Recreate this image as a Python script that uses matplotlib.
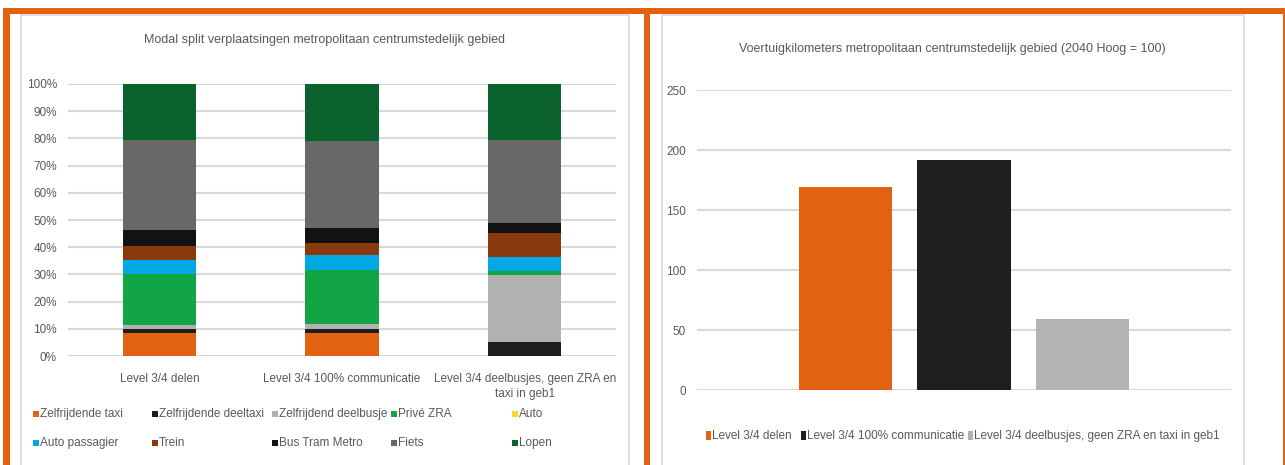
import matplotlib
matplotlib.use("Agg")
import matplotlib.pyplot as plt
from matplotlib.patches import Rectangle
import numpy as np

plt.rcParams['font.family'] = ['Liberation Sans', 'DejaVu Sans']

# ---- data: modal split (share of trips, %) ----
scenarios = ["Level 3/4 delen", "Level 3/4 100% communicatie",
             "Level 3/4 deelbusjes, geen ZRA en\ntaxi in geb1"]
modes = ["Zelfrijdende taxi", "Zelfrijdende deeltaxi", "Zelfrijdend deelbusje",
         "Privé ZRA", "Auto", "Auto passagier", "Trein", "Bus Tram Metro",
         "Fiets", "Lopen"]
zelfrijdende_taxi = [8.3, 8.3, 0.0]
zelfrijdende_deeltaxi = [1.6, 1.6, 5.3]
zelfrijdend_deelbusje = [1.5, 1.8, 24.4]
prive_zra = [18.9, 20.1, 1.5]
auto = [0.0, 0.0, 0.0]
auto_passagier = [4.9, 5.2, 5.3]
trein = [5.3, 4.4, 8.6]
bus_tram_metro = [5.9, 5.5, 3.7]
fiets = [32.9, 32.3, 30.6]
lopen = [20.7, 20.7, 20.7]

# ---- data: vehicle kilometres (2040 Hoog = 100) ----
vkm_labels = ["Level 3/4 delen", "Level 3/4 100% communicatie",
              "Level 3/4 deelbusjes, geen ZRA en taxi in geb1"]
vkm_values = [169, 192, 59]

mode_colors = ["#E36211", "#1E1E1E", "#B1B1B1", "#12A545", "#FFD52E",
               "#00A9E4", "#893A0C", "#121212", "#686868", "#0B622D"]
vkm_colors = ["#E36211", "#1E1E1E", "#B3B3B3"]

TXT = "#595959"
GRID = "#D9D9D9"
ORANGE = "#E36211"
FS = 8.5
FS_TITLE = 9
W, H = 1285, 465

fig = plt.figure(figsize=(W / 100, H / 100), dpi=100)


def fx(x):
    return x / W


def fy(y):
    return 1 - y / H


def frect(x0, y0, x1, y1, **kw):
    fig.add_artist(Rectangle((fx(x0), fy(y1)), fx(x1) - fx(x0), fy(y0) - fy(y1),
                             transform=fig.transFigure, **kw))


# panel frames (behind the axes) and orange border
frect(21, 15, 629, 470, facecolor="white", edgecolor=GRID, linewidth=1.2, zorder=-2)
frect(662, 15, 1244, 470, facecolor="white", edgecolor=GRID, linewidth=1.2, zorder=-2)
frect(3, 8, 1285, 14, facecolor=ORANGE, edgecolor="none", zorder=5)
frect(3, 8, 10, 465, facecolor=ORANGE, edgecolor="none", zorder=5)
frect(644, 8, 650, 465, facecolor=ORANGE, edgecolor="none", zorder=5)
frect(1283, 8, 1285, 465, facecolor=ORANGE, edgecolor="none", zorder=5)

# ---- left: stacked modal split ----
ax1 = fig.add_axes([fx(68), fy(356), fx(616) - fx(68), fy(84) - fy(356)])
ax1.patch.set_alpha(0)
series = [zelfrijdende_taxi, zelfrijdende_deeltaxi, zelfrijdend_deelbusje,
          prive_zra, auto, auto_passagier, trein, bus_tram_metro, fiets, lopen]
x = np.arange(len(scenarios))
bottom = np.zeros(len(scenarios))
for name, vals, col in zip(modes, series, mode_colors):
    vals = np.array(vals, dtype=float)
    ax1.bar(x, vals, bottom=bottom, width=0.4, color=col, label=name, zorder=3)
    bottom += vals
ax1.set_xlim(-0.5, 2.5)
ax1.set_ylim(0, 100)
ax1.set_yticks(np.arange(0, 101, 10))
ax1.set_yticklabels([f"{v}%" for v in range(0, 101, 10)])
ax1.set_xticks(x)
ax1.set_xticklabels(scenarios, linespacing=1.4)
ax1.yaxis.grid(True, color=GRID, linewidth=1.5, zorder=0)
for s in ax1.spines.values():
    s.set_visible(False)
ax1.tick_params(length=0, colors=TXT, labelsize=FS)
ax1.tick_params(axis="y", pad=8)
ax1.tick_params(axis="x", pad=12)
fig.text(fx(325), fy(40), "Modal split verplaatsingen metropolitaan centrumstedelijk gebied",
         ha="center", va="center", color=TXT, fontsize=FS_TITLE)

# legend grid, five equal columns
col_x = [33, 152, 272, 391, 512]
row_y = [414, 443]
for i, (name, col) in enumerate(zip(modes, mode_colors)):
    cx = col_x[i % 5]
    cy = row_y[i // 5]
    frect(cx, cy - 3, cx + 6, cy + 3, facecolor=col, edgecolor="none")
    fig.text(fx(cx + 7), fy(cy), name, ha="left", va="center", color=TXT, fontsize=FS)

# ---- right: vehicle kilometres ----
ax2 = fig.add_axes([fx(697), fy(390), fx(1231) - fx(697), fy(90) - fy(390)])
ax2.patch.set_alpha(0)
xr = np.array([-1, 0, 1])
for xi, lab, val, col in zip(xr, vkm_labels, vkm_values, vkm_colors):
    ax2.bar(xi, val, width=0.79, color=col, label=lab, zorder=3)
ax2.set_xlim(-2.253, 2.253)
ax2.set_ylim(0, 250)
ax2.set_yticks(np.arange(0, 251, 50))
ax2.set_xticks([])
ax2.yaxis.grid(True, color=GRID, linewidth=1.5, zorder=0)
for s in ax2.spines.values():
    s.set_visible(False)
ax2.tick_params(length=0, colors=TXT, labelsize=FS, pad=8)
fig.text(fx(952), fy(49), "Voertuigkilometers metropolitaan centrumstedelijk gebied (2040 Hoog = 100)",
         ha="center", va="center", color=TXT, fontsize=FS_TITLE)

leg_x = [706, 801, 968]
for lx, lab, col in zip(leg_x, vkm_labels, vkm_colors):
    frect(lx, 431, lx + 5, 440, facecolor=col, edgecolor="none")
    fig.text(fx(lx + 6), fy(435.5), lab, ha="left", va="center", color=TXT, fontsize=FS)

fig.savefig("out.png", dpi=100)
